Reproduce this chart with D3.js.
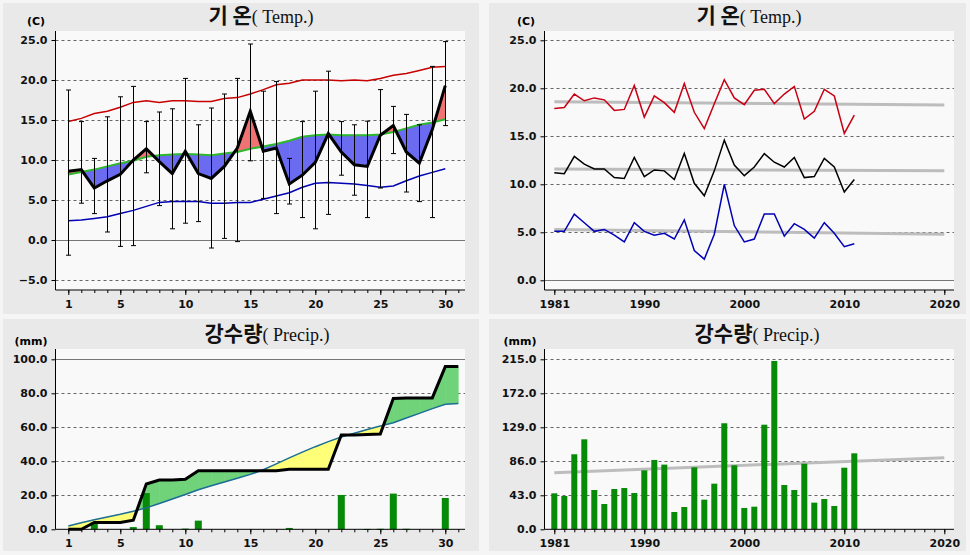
<!DOCTYPE html>
<html><head><meta charset="utf-8">
<script src="https://cdn.jsdelivr.net/npm/d3@7"></script>
<style>
html,body{margin:0;padding:0;background:#f5f5f5;}
svg{display:block;}
.tick text{font-family:"DejaVu Sans",sans-serif;font-weight:bold;font-size:11px;fill:#111;}
</style></head>
<body>
<svg id="c" width="970" height="555"></svg>
<script>
// ---------- DATA ----------
const dayTicks = [1,5,10,15,20,25,30];
const tempTicks = [-5,0,5,10,15,20,25];
const tempTicksR = [0,5,10,15,20,25];
const precipTicks = [0,20,40,60,80,100];
const precipTicksR = [0,43,86,129,172,215];
const yearTicks = [1981,1990,2000,2010,2020];

const tempMaxNormal = [14.8,15.2,15.8,16.1,16.6,17.2,17.4,17.2,17.4,17.4,17.3,17.3,17.7,17.8,18.25,18.8,19.4,19.6,20.0,20.0,20.0,19.9,20.0,19.9,20.2,20.6,20.8,21.2,21.6,21.7];
const tempMeanNormal = [8.2,8.5,8.8,9.2,9.6,9.9,10.4,10.6,10.7,10.75,10.7,10.6,10.8,11.0,11.4,11.7,12.0,12.4,12.9,13.1,13.2,13.1,13.1,13.1,13.2,13.5,13.95,14.4,14.7,15.1];
const tempMinNormal = [2.4,2.5,2.7,2.9,3.3,3.7,4.2,4.7,4.8,4.8,4.8,4.6,4.6,4.7,4.7,5.1,5.5,5.9,6.6,7.1,7.2,7.1,7.0,6.8,6.6,6.75,7.4,8.0,8.45,8.9];
const tempMean = [8.6,8.8,6.5,7.4,8.2,10.0,11.4,9.8,8.3,11.1,8.3,7.7,9.2,11.5,16.1,11.1,11.5,7.0,8.1,9.7,13.3,11.0,9.4,9.2,13.1,14.3,11.0,9.6,13.8,19.3];
const tempHigh = [18.75,14.8,10.2,15.4,17.9,19.2,14.8,16.0,16.4,20.2,14.4,16.5,18.25,20.2,24.5,18.6,19.8,10.2,14.8,18.6,21.1,14.8,14.4,14.85,18.8,16.7,15.7,14.4,21.7,24.8];
const tempLow = [-1.9,4.6,3.3,1.0,-0.8,-0.7,8.4,4.3,1.4,2.1,2.3,-1.0,0.2,-0.2,9.9,5.2,3.3,4.5,2.8,1.4,3.2,8.1,5.6,2.8,6.5,10.8,6.0,4.8,2.8,14.3];

const dailyPrecip = [0,0,4.0,0,0,1.3,21.3,2.4,0,0.4,5.1,0,0,0,0,0,0,0.8,0,0,0,20.2,0,0.2,0.3,21.0,0.3,0,0,18.4];
const precipNormalCum = [1.9,3.8,5.6,7.2,8.8,10.6,12.6,15.2,17.8,20.5,23.3,25.6,27.8,30.0,32.3,35.0,38.5,42.0,45.4,48.6,51.6,54.3,56.5,58.7,60.8,62.7,65.5,68.2,71.0,73.6,74.0];

const years = d3.range(1981,2012);
const yrMax = [17.9,18.0,19.4,18.7,19.0,18.8,17.7,17.8,20.3,17.0,19.2,18.5,17.5,20.5,17.5,15.8,18.4,20.9,19.0,18.3,19.8,19.9,18.4,19.4,20.2,16.8,17.6,19.9,19.2,15.3,17.2];
const yrMean = [11.2,11.1,12.9,12.1,11.6,11.6,10.7,10.6,12.8,10.8,11.5,11.4,10.5,13.2,10.1,8.8,11.4,14.6,12.0,10.9,11.8,13.2,12.3,11.8,12.8,10.7,10.8,12.7,11.8,9.2,10.5];
const yrMin = [5.1,5.1,6.9,6.0,5.1,5.3,4.7,4.0,6.0,5.1,4.7,4.9,4.3,6.3,3.1,2.2,4.8,10.0,5.7,4.0,4.3,6.9,6.9,4.6,5.9,5.3,4.4,6.0,4.9,3.5,3.8];
const yrPrecip = [45.5,42.1,94.9,113.8,49.7,32.0,51.0,52.2,45.9,74.6,87.7,81.8,21.9,28.2,78.4,37.5,57.7,134.1,81.0,27.0,28.6,132.3,212.9,56.0,49.7,83.0,33.7,38.3,29.5,77.9,96.1];
const trendYears = [1981,2020];
const trendMax = [18.6,18.25];
const trendMean = [11.6,11.4];
const trendMin = [5.3,4.8];
const trendPrecip = [71.6,90.6];

// ---------- LAYOUT ----------
const svg = d3.select("#c");
const panels = [
  {x:3,y:3,w:476,h:311},{x:489,y:3,w:477,h:311},
  {x:3,y:319,w:476,h:232},{x:489,y:319,w:477,h:232}
];
panels.forEach(p=>svg.append("rect").attr("x",p.x).attr("y",p.y).attr("width",p.w).attr("height",p.h).attr("fill","#e9e9e9"));

const days = d3.range(1,31);
const days31 = d3.range(1,32);
const xDayT = d3.scaleLinear().domain([1,31]).range([68.3,458.3]);
const xDayB = d3.scaleLinear().domain([1,31]).range([68.3,458.3]);
const xYrT = d3.scaleLinear().domain([1981,2020]).range([554.3,944.3]);
const xYrB = d3.scaleLinear().domain([1981,2020]).range([554.3,944.3]);
const yTL = d3.scaleLinear().domain([-5,25]).range([280,40]);
const yTR = d3.scaleLinear().domain([0,25]).range([280.3,40.3]);
const yBL = d3.scaleLinear().domain([0,100]).range([529.3,359.3]);
const yBR = d3.scaleLinear().domain([0,215]).range([529.3,359.3]);

function plotArea(x0,x1,y0,y1){
  svg.append("rect").attr("x",x0).attr("y",y0).attr("width",x1-x0).attr("height",y1-y0).attr("fill","#f9f9f9");
}
plotArea(55.5,465,31,290);
plotArea(544.5,954,31,290);
plotArea(55.5,465,349,529.3);
plotArea(544.5,954,349,529.3);

function grid(ticks, y, x0, x1, solidVals){
  ticks.forEach(t=>{
    const solid = solidVals.includes(t);
    svg.append("line").attr("x1",x0).attr("x2",x1).attr("y1",Math.round(y(t))+0.5).attr("y2",Math.round(y(t))+0.5)
      .attr("stroke", solid?"#777":"#666").attr("stroke-width",1)
      .attr("stroke-dasharray", solid?null:"3,3");
  });
}
grid(tempTicks, yTL, 55.5, 465, [0]);
grid(tempTicksR, yTR, 544.5, 954, [0]);
grid(precipTicks.filter(d=>d>0), yBL, 55.5, 465, [100]);
grid(precipTicksR.filter(d=>d>0), yBR, 544.5, 954, []);

function yAxis(ticks, y, x, y0, y1){
  const g = svg.append("g").attr("transform",`translate(${x},0)`)
    .call(d3.axisLeft(y).tickValues(ticks).tickFormat(d3.format(".1f")).tickSize(4).tickPadding(4));
  g.select(".domain").remove();
  g.selectAll(".tick line").attr("stroke","#000");
  svg.append("line").attr("x1",x).attr("x2",x).attr("y1",y0).attr("y2",y1).attr("stroke","#000");
}
function xAxis(major, minor, xs, y, x0, x1){
  const gm = svg.append("g").attr("transform",`translate(0,${y})`)
    .call(d3.axisBottom(xs).tickValues(minor).tickFormat("").tickSize(3));
  gm.select(".domain").remove();
  gm.selectAll(".tick line").attr("stroke","#000");
  const g = svg.append("g").attr("transform",`translate(0,${y})`)
    .call(d3.axisBottom(xs).tickValues(major).tickFormat(d3.format("d")).tickSize(5).tickPadding(5));
  g.select(".domain").remove();
  g.selectAll(".tick line").attr("stroke","#000");
  g.selectAll(".tick text").attr("font-size","12px");
  svg.append("line").attr("x1",x0).attr("x2",x1).attr("y1",y).attr("y2",y).attr("stroke","#000");
}

// ---------- fill between helper ----------
function fillBetween(xs, a, b, xScale, yScale, posColor, negColor){
  const g = svg.append("g");
  for(let i=0;i<xs.length-1;i++){
    const x0=xs[i],x1=xs[i+1],a0=a[i],a1=a[i+1],b0=b[i],b1=b[i+1];
    const d0=a0-b0,d1=a1-b1;
    let polys=[];
    if(d0*d1>=0){
      polys.push({pts:[[x0,a0],[x1,a1],[x1,b1],[x0,b0]],pos:(d0+d1)>=0});
    } else {
      const t=d0/(d0-d1), xc=x0+t*(x1-x0), yc=a0+t*(a1-a0);
      polys.push({pts:[[x0,a0],[xc,yc],[x0,b0]],pos:d0>0});
      polys.push({pts:[[xc,yc],[x1,a1],[x1,b1]],pos:d1>0});
    }
    polys.forEach(p=>{
      const c = p.pos?posColor:negColor;
      g.append("path").attr("d","M"+p.pts.map(q=>[xScale(q[0]),yScale(q[1])].join(",")).join("L")+"Z")
        .attr("fill",c).attr("stroke",c).attr("stroke-width",0.6);
    });
  }
}
function line(xs, ys, xScale, yScale, color, w){
  svg.append("path").datum(xs.map((x,i)=>[x,ys[i]]))
    .attr("d", d3.line().x(d=>xScale(d[0])).y(d=>yScale(d[1])))
    .attr("fill","none").attr("stroke",color).attr("stroke-width",w).attr("stroke-linejoin","miter");
}

// ---------- TOP LEFT: daily temperature ----------
fillBetween(days, tempMean, tempMeanNormal, xDayT, yTL, "#f07272", "#6b6bf2");
line(days, tempMaxNormal, xDayT, yTL, "#c80000", 1.5);
line(days, tempMeanNormal, xDayT, yTL, "#2db82d", 2);
line(days, tempMinNormal, xDayT, yTL, "#0000b4", 1.5);
const eb = svg.append("g").attr("stroke","#000").attr("stroke-width",1);
days.forEach((d,i)=>{
  const x = Math.round(xDayT(d))+0.5;
  eb.append("line").attr("x1",x).attr("x2",x).attr("y1",yTL(tempHigh[i])).attr("y2",yTL(tempLow[i]));
  eb.append("line").attr("x1",x-2.5).attr("x2",x+2.5).attr("y1",yTL(tempHigh[i])).attr("y2",yTL(tempHigh[i]));
  eb.append("line").attr("x1",x-2.5).attr("x2",x+2.5).attr("y1",yTL(tempLow[i])).attr("y2",yTL(tempLow[i]));
});
line(days, tempMean, xDayT, yTL, "#000", 3);
yAxis(tempTicks, yTL, 55.5, 31, 290);
xAxis(dayTicks, days31, xDayT, 290, 55.5, 465);

// ---------- TOP RIGHT: yearly temperature ----------
line(trendYears, trendMax, xYrT, yTR, "#bdbdbd", 3);
line(trendYears, trendMean, xYrT, yTR, "#bdbdbd", 3);
line(trendYears, trendMin, xYrT, yTR, "#bdbdbd", 3);
line(years, yrMax, xYrT, yTR, "#c80014", 1.5);
line(years, yrMean, xYrT, yTR, "#000", 1.5);
line(years, yrMin, xYrT, yTR, "#0000b4", 1.5);
yAxis(tempTicksR, yTR, 544.5, 31, 290);
xAxis(yearTicks, d3.range(1981,2021), xYrT, 290, 544.5, 954);

// ---------- BOTTOM LEFT: daily precipitation ----------
const cumActual = Array.from(d3.cumsum(dailyPrecip));
cumActual.push(cumActual[cumActual.length-1]);
fillBetween(days31, cumActual, precipNormalCum, xDayB, yBL, "#70d37a", "#ffff78");
svg.append("g").selectAll("rect").data(days.filter((d,i)=>dailyPrecip[i]>0)).join("rect")
  .attr("x",d=>xDayB(d)-3.5).attr("width",7)
  .attr("y",d=>yBL(dailyPrecip[d-1])).attr("height",d=>Math.max(1,yBL(0)-yBL(dailyPrecip[d-1])))
  .attr("fill","#078a07");
line(days31, precipNormalCum, xDayB, yBL, "#1c6e96", 1.5);
line(days31, cumActual, xDayB, yBL, "#000", 3);
yAxis(precipTicks, yBL, 55.5, 349, 529.3);
xAxis(dayTicks, days31, xDayB, 529.3, 55.5, 465);

// ---------- BOTTOM RIGHT: yearly precipitation ----------
line(trendYears, trendPrecip, xYrB, yBR, "#bdbdbd", 3);
svg.append("g").selectAll("rect").data(years).join("rect")
  .attr("x",d=>xYrB(d)-3).attr("width",6)
  .attr("y",(d,i)=>yBR(yrPrecip[i])).attr("height",(d,i)=>yBR(0)-yBR(yrPrecip[i]))
  .attr("fill","#078a07");
yAxis(precipTicksR, yBR, 544.5, 349, 529.3);
xAxis(yearTicks, d3.range(1981,2021), xYrB, 529.3, 544.5, 954);

// ---------- TITLES & UNITS ----------
function title(cx, y, kor, eng){
  const t = svg.append("text").attr("x",cx).attr("y",y).attr("text-anchor","middle").attr("fill","#111");
  t.append("tspan").text(kor).attr("font-family","'Noto Sans CJK KR',sans-serif").attr("font-size","21px").attr("font-weight","bold");
  t.append("tspan").text(eng).attr("font-family","'Liberation Serif',serif").attr("font-size","18px");
}
title(261, 23, "기 온", "( Temp.)");
title(749, 23, "기 온", "( Temp.)");
title(267, 341, "강수량", "( Precip.)");
title(757, 341, "강수량", "( Precip.)");
function unit(cx,y,txt){
  svg.append("text").attr("x",cx).attr("y",y).attr("text-anchor","middle")
    .attr("font-family","'DejaVu Sans',sans-serif").attr("font-weight","bold").attr("font-size","11px").text(txt);
}
unit(36,25,"(C)");
unit(526,25,"(C)");
unit(31,345,"(mm)");
unit(520,345,"(mm)");
</script>
</body></html>
